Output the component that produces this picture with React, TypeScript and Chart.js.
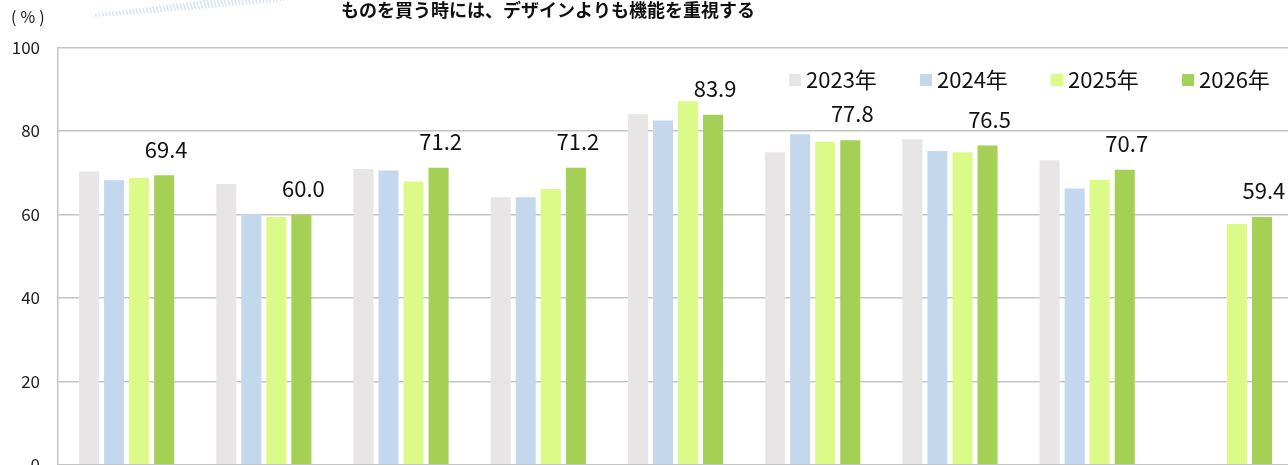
import React, { useEffect, useRef } from "react";
import { Chart, registerables } from "chart.js";

Chart.register(...registerables);

const chartTitle = "ものを買う時には、デザインよりも機能を重視する";
const unitLabel = "(%)";
const categories = ["項目1", "項目2", "項目3", "項目4", "項目5", "項目6", "項目7", "項目8", "項目9"];
const seriesNames = ["2023年", "2024年", "2025年", "2026年"];
const seriesColors = ["#E7E5E6", "#C3D7ED", "#DCFA88", "#A3D055"];
const values2023: (number | null)[] = [70.3, 67.3, 70.9, 64.1, 84.0, 74.9, 78.0, 73.0, null];
const values2024: (number | null)[] = [68.2, 60.1, 70.5, 64.1, 82.5, 79.2, 75.2, 66.2, null];
const values2025: (number | null)[] = [68.8, 59.4, 67.9, 66.1, 87.1, 77.4, 74.9, 68.3, 57.7];
const values2026: (number | null)[] = [69.4, 60.0, 71.2, 71.2, 83.9, 77.8, 76.5, 70.7, 59.4];
const yTicks = [0, 20, 40, 60, 80, 100];

const FONT = "'Noto Sans CJK JP', 'Noto Sans', sans-serif";

const decorPlugin = {
  id: "decor",
  beforeDraw(chart: any) {
    const ctx = chart.ctx;
    ctx.save();
    ctx.beginPath();
    ctx.moveTo(93, 17);
    ctx.quadraticCurveTo(190, 11, 292, 0);
    ctx.lineTo(205, 0);
    ctx.quadraticCurveTo(140, 8, 93, 14);
    ctx.closePath();
    ctx.clip();
    ctx.strokeStyle = "#DAE5F3";
    ctx.lineWidth = 1.6;
    for (let x = 60; x < 320; x += 3.5) {
      ctx.beginPath();
      ctx.moveTo(x, 0);
      ctx.lineTo(x + 6, 20);
      ctx.stroke();
    }
    ctx.restore();

    ctx.save();
    ctx.fillStyle = "#111";
    ctx.font = `bold 18px ${FONT}`;
    ctx.textAlign = "center";
    ctx.textBaseline = "middle";
    ctx.fillText(chartTitle, 548, 10);
    ctx.font = `16px ${FONT}`;
    ctx.textAlign = "left";
    (ctx as any).letterSpacing = "4px";
    ctx.fillText(unitLabel, 11, 17);
    ctx.restore();
  },
  afterDraw(chart: any) {
    const ctx = chart.ctx;
    ctx.save();
    const xs = [789, 920, 1051, 1182];
    ctx.font = `22px ${FONT}`;
    ctx.textBaseline = "middle";
    ctx.textAlign = "left";
    seriesNames.forEach((name, i) => {
      ctx.fillStyle = seriesColors[i];
      ctx.fillRect(xs[i], 74, 12, 12);
      ctx.fillStyle = "#111";
      ctx.fillText(name, xs[i] + 17, 80);
    });
    ctx.restore();
  },
  afterDatasetsDraw(chart: any) {
    const ctx = chart.ctx;
    const meta = chart.getDatasetMeta(3);
    ctx.save();
    ctx.font = `22px ${FONT}`;
    ctx.fillStyle = "#111";
    ctx.textAlign = "center";
    ctx.textBaseline = "middle";
    meta.data.forEach((el: any, i: number) => {
      const v = values2026[i];
      if (v == null) return;
      ctx.fillText(v.toFixed(1), el.x + 2, el.y - 26);
    });
    ctx.restore();
  },
};

export default function App() {
  const ref = useRef<HTMLCanvasElement>(null);
  useEffect(() => {
    if (!ref.current) return;
    const all = [values2023, values2024, values2025, values2026];
    const chart = new Chart(ref.current, {
      type: "bar",
      data: {
        labels: categories,
        datasets: all.map((d, i) => ({
          label: seriesNames[i],
          data: d,
          backgroundColor: seriesColors[i],
          borderWidth: 0,
          categoryPercentage: 0.73,
          barPercentage: 0.8,
        })),
      },
      options: {
        responsive: false,
        animation: false,
        devicePixelRatio: 1,
        layout: { padding: { left: 0, right: 7, top: 47.5, bottom: 7.2 } },
        plugins: {
          legend: { display: false },
          title: { display: false },
          tooltip: { enabled: false },
        },
        scales: {
          x: {
            ticks: { display: false },
            grid: { display: false, drawTicks: false },
            border: { display: true, color: "#C4C4C4", width: 1.5 },
            afterFit: (s: any) => {
              s.height = 0;
            },
          },
          y: {
            min: 0,
            max: 100,
            afterBuildTicks: (s: any) => {
              s.ticks = yTicks.map((v) => ({ value: v }));
            },
            ticks: {
              padding: 18,
              color: "#222",
              font: { family: FONT, size: 17 },
            },
            grid: { color: "#C4C4C4", lineWidth: 1.5, drawTicks: false },
            border: { display: true, color: "#C4C4C4", width: 1.5 },
            afterFit: (s: any) => {
              s.width = 58;
            },
          },
        },
      },
      plugins: [decorPlugin],
    });
    return () => chart.destroy();
  }, []);
  return (
    <div style={{ position: "absolute", left: 0, top: 0, width: 1288, height: 465, overflow: "hidden", background: "#fff" }}>
      <canvas ref={ref} width={1300} height={493} style={{ display: "block" }} />
    </div>
  );
}
